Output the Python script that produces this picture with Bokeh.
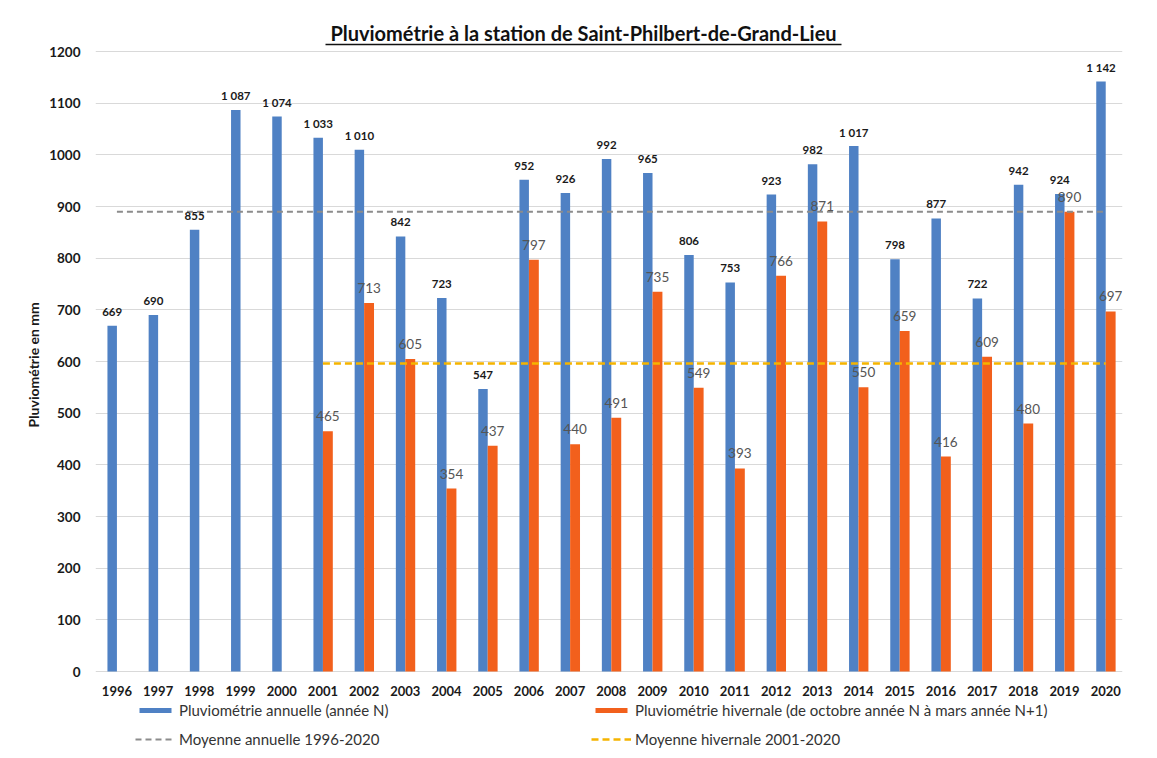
from bokeh.plotting import figure
from bokeh.models import (ColumnDataSource, Range1d, FixedTicker, Legend, LegendItem,
                          Label, Arrow, Title)
from bokeh.transform import dodge
from bokeh.core.properties import value
from bokeh.embed import file_html
from bokeh.resources import INLINE

# ---------------- data ----------------
years = [1996, 1997, 1998, 1999, 2000, 2001, 2002, 2003, 2004, 2005, 2006, 2007, 2008,
         2009, 2010, 2011, 2012, 2013, 2014, 2015, 2016, 2017, 2018, 2019, 2020]
annual = [669, 690, 855, 1087, 1074, 1033, 1010, 842, 723, 547, 952, 926, 992,
          965, 806, 753, 923, 982, 1017, 798, 877, 722, 942, 924, 1142]
winter_years = [2001, 2002, 2003, 2004, 2005, 2006, 2007, 2008, 2009, 2010,
                2011, 2012, 2013, 2014, 2015, 2016, 2017, 2018, 2019, 2020]
winter = [465, 713, 605, 354, 437, 797, 440, 491, 735, 549,
          393, 766, 871, 550, 659, 416, 609, 480, 890, 697]
mean_annual = 890
mean_winter = 596
mean_annual_span = [1996, 2020]
mean_winter_span = [2001, 2020]
y_ticks = [0, 100, 200, 300, 400, 500, 600, 700, 800, 900, 1000, 1100, 1200]

title_text = "Pluviométrie à la station de Saint-Philbert-de-Grand-Lieu"
y_title = "Pluviométrie en mm"
lbl_annual = "Pluviométrie annuelle (année N)"
lbl_winter = "Pluviométrie hivernale (de octobre année N à mars année N+1)"
lbl_mean_annual = "Moyenne annuelle 1996-2020"
lbl_mean_winter = "Moyenne hivernale 2001-2020"

BLUE = "#4f81c4"
ORANGE = "#f2601c"
FONT = "Lato"

def fmt(v):
    return f"{v:,}".replace(",", " ")

src_a = ColumnDataSource(dict(year=years, val=annual, txt=[fmt(v) for v in annual]))
src_w = ColumnDataSource(dict(year=winter_years, val=winter, txt=[str(v) for v in winter]))
src_x = ColumnDataSource(dict(year=years, base=[0] * len(years), txt=[str(y) for y in years]))

# ---------------- layout (pixels) ----------------
W, H = 1157, 758
F_LEFT, F_RIGHT = 95, 1122          # frame edges
F_TOP, F_BOTTOM = 12, 756
PX0, PX1200 = 671, 51                # pixel rows of y=0 and y=1200
y_max = 1200
ppu = (PX0 - PX1200) / y_max         # pixels per data unit (y)
y_hi = y_max + (PX1200 - F_TOP) / ppu
y_lo = -(F_BOTTOM - PX0) / ppu
x_lo = 1995.48
ppx = 41.2                           # pixels per year
x_hi = x_lo + (F_RIGHT - F_LEFT) / ppx

p = figure(width=W, height=H, output_backend="svg", toolbar_location=None,
           x_range=Range1d(x_lo, x_hi), y_range=Range1d(y_lo, y_hi),
           min_border_left=F_LEFT, min_border_right=W - F_RIGHT,
           min_border_top=F_TOP, min_border_bottom=H - F_BOTTOM)
p.outline_line_color = None
p.background_fill_color = "white"
p.border_fill_color = "white"

# bars
ra = p.vbar(x=dodge("year", -0.115), top="val", width=0.23, source=src_a,
            fill_color=BLUE, line_color=None)
rw = p.vbar(x=dodge("year", 0.12), top="val", width=0.24, source=src_w,
            fill_color=ORANGE, line_color=None)

# mean lines
rma = p.line(x=mean_annual_span, y=[mean_annual, mean_annual], line_color="#8c8c8c",
             line_width=2, line_dash="6 4")
rmw = p.line(x=mean_winter_span, y=[mean_winter, mean_winter], line_color="#f5b400",
             line_width=2.5, line_dash="7 4")

# value labels
p.text(x=dodge("year", -0.115), y="val", text="txt", source=src_a,
       text_align="center", text_baseline="middle", y_offset=-14,
       text_font=value(FONT), text_font_size="11.5px", text_font_style="bold",
       text_color="#1a1a1a")
p.text(x=dodge("year", 0.12), y="val", text="txt", source=src_w,
       text_align="center", text_baseline="middle", y_offset=-15,
       text_font=value(FONT), text_font_size="13.5px", text_color="#555555")

# x category labels (under the zero line)
p.text(x="year", y="base", text="txt", source=src_x,
       text_align="center", text_baseline="middle", y_offset=19,
       text_font=value(FONT), text_font_size="13px", text_font_style="bold",
       text_color="#1a1a1a")

# axes
p.xaxis.visible = False
p.xgrid.grid_line_color = None
yax = p.yaxis[0]
yax.ticker = FixedTicker(ticks=y_ticks)
yax.bounds = (0, y_max)
yax.axis_line_color = None
yax.major_tick_line_color = None
yax.minor_tick_line_color = None
yax.major_tick_out = 0
yax.major_tick_in = 0
yax.minor_tick_out = 0
yax.minor_tick_in = 0
yax.major_label_text_font = FONT
yax.major_label_text_font_style = "bold"
yax.major_label_text_color = "#1a1a1a"
yax.major_label_text_font_size = "13.5px"
yax.major_label_standoff = 15
p.ygrid.ticker = FixedTicker(ticks=y_ticks)
p.ygrid.grid_line_color = "#d9d9d9"
p.ygrid.grid_line_width = 1

# y axis title, placed along the 0..1200 extent
p.add_layout(Title(text=y_title, align="left", offset=F_BOTTOM - 427, standoff=10,
                   text_font=FONT, text_font_size="14px", text_font_style="bold",
                   text_color="#1a1a1a"), "left")

# title with underline (inside the frame, above the y=1200 line)
x_mid = x_lo + (583 - F_LEFT) / ppx
p.add_layout(Label(x=x_mid, y=y_max + (PX1200 - 32) / ppu, text=title_text,
                   text_align="center", text_baseline="middle", text_font=FONT,
                   text_font_size="20px", text_font_style="bold", text_color="#111111"))
half = 258 / ppx
y_ul = y_max + (PX1200 - 44) / ppu
p.add_layout(Arrow(end=None, x_start=x_mid - half, x_end=x_mid + half,
                   y_start=y_ul, y_end=y_ul, line_color="#111111", line_width=1.5))

# legends
leg_a = Legend(items=[LegendItem(label=lbl_annual, renderers=[ra]),
                      LegendItem(label=lbl_mean_annual, renderers=[rma])],
               location=(135 - F_LEFT, F_BOTTOM - 749))
leg_w = Legend(items=[LegendItem(label=lbl_winter, renderers=[rw]),
                      LegendItem(label=lbl_mean_winter, renderers=[rmw])],
               location=(591 - F_LEFT, F_BOTTOM - 749))
for lg in (leg_a, leg_w):
    lg.orientation = "vertical"
    lg.glyph_width = 40
    lg.glyph_height = 6
    lg.label_height = 20
    lg.spacing = 9
    lg.padding = 0
    lg.margin = 0
    lg.label_standoff = 4
    lg.border_line_color = None
    lg.background_fill_alpha = 0
    lg.label_text_font = FONT
    lg.label_text_font_size = "15px"
    lg.label_text_color = "#333333"
    p.add_layout(lg, "center")

open("out.html", "w").write(file_html(p, INLINE))
